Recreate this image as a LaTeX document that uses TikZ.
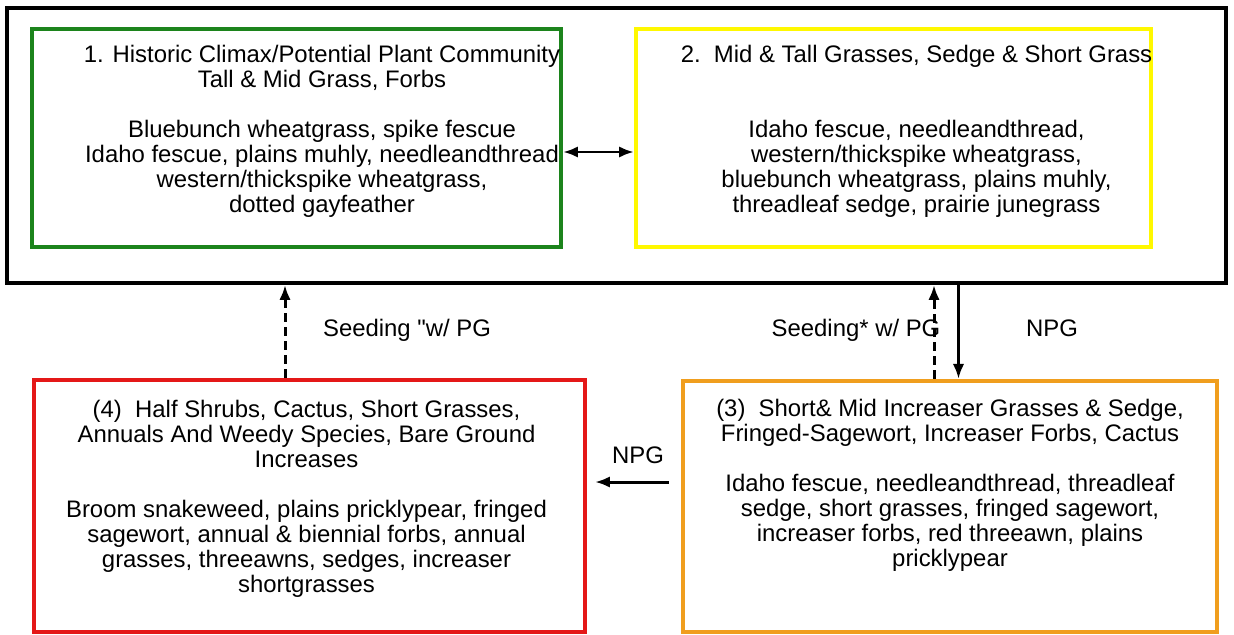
\documentclass[tikz,border=0pt]{standalone}
\usepackage{fontspec}
\setmainfont{Liberation Sans}[Ligatures=TeXOff]
\usepackage{xcolor}
\usetikzlibrary{arrows.meta, positioning}

\definecolor{climaxgreen}{RGB}{28,132,28}
\definecolor{midyellow}{RGB}{255,248,0}
\definecolor{shrubred}{RGB}{228,24,24}
\definecolor{increaserorange}{RGB}{240,158,30}

\begin{document}
\begin{tikzpicture}[
    x=0.02cm, y=-0.02cm,
    box/.style={draw, rectangle, line width=2.4pt, fill=white},
    boxtext/.style={align=center, inner sep=0pt, font=\fontsize{13.6}{14.2}\selectfont},
    lbl/.style={inner sep=1pt, font=\fontsize{13.6}{14.2}\selectfont},
    arrow/.style={->, >={Latex[length=8.5pt, width=6.5pt]}, line width=1.7pt},
    dasharrow/.style={arrow, dash pattern=on 5pt off 3pt}
]
    \useasboundingbox (0,0) rectangle (1234,635);

    \node (group) [box, line width=2.3pt, minimum width=24.38cm, minimum height=5.5cm] at (616.5,145.5) {};
    \node (state1) [box, draw=climaxgreen, minimum width=10.58cm, minimum height=4.36cm] at (296.5,138) {};
    \node (state2) [box, draw=midyellow, minimum width=10.3cm, minimum height=4.36cm] at (893.5,138) {};
    \node (state4) [box, draw=shrubred, minimum width=11.02cm, minimum height=5.04cm] at (309.5,506) {};
    \node (state3) [box, draw=increaserorange, minimum width=10.68cm, minimum height=5.02cm] at (950,506.5) {};

    \node (text1) [boxtext] at ([xshift=0.51cm, yshift=0.14cm]state1.center) {1. Historic Climax/Potential Plant Community\\ Tall \& Mid Grass, Forbs\\[14.2pt] Bluebunch wheatgrass, spike fescue\\ Idaho fescue, plains muhly, needleandthread\\ western/thickspike wheatgrass,\\ dotted gayfeather};
    \node (text2) [boxtext] at ([xshift=0.46cm, yshift=0.14cm]state2.center) {2.\ \ Mid \& Tall Grasses, Sedge \& Short Grass\\[28.4pt] Idaho fescue, needleandthread,\\ western/thickspike wheatgrass,\\ bluebunch wheatgrass, plains muhly,\\ threadleaf sedge, prairie junegrass};
    \node (text4) [boxtext] at ([xshift=-0.06cm, yshift=0.15cm]state4.center) {(4)\ \ Half Shrubs, Cactus, Short Grasses,\\ Annuals And Weedy Species, Bare Ground\\ Increases\\[14.2pt] Broom snakeweed, plains pricklypear, fringed\\ sagewort, annual \& biennial forbs, annual\\ grasses, threeawns, sedges, increaser\\ shortgrasses};
    \node (text3) [boxtext] at ([yshift=0.43cm]state3.center) {(3)\ \ Short\& Mid Increaser Grasses \& Sedge,\\ Fringed-Sagewort, Increaser Forbs, Cactus\\[14.2pt] Idaho fescue, needleandthread, threadleaf\\ sedge, short grasses, fringed sagewort,\\ increaser forbs, red threeawn, plains\\ pricklypear};

    % transitions
    \draw [arrow, <->] ([yshift=-0.28cm]state1.east) -- ([yshift=-0.28cm]state2.west);
    \draw [dasharrow] ([xshift=-0.49cm]state4.north) -- ([xshift=-0.49cm]state4.north |- group.south);
    \draw [dasharrow] ([xshift=-0.32cm]state3.north) -- ([xshift=-0.32cm]state3.north |- group.south);
    \draw [arrow] ([xshift=0.17cm]state3.north |- group.south) -- ([xshift=0.17cm]state3.north);
    \draw [arrow, shorten <=0.24cm, shorten >=0.16cm] ([yshift=0.49cm]state3.west) -- ([yshift=0.49cm]state3.west -| state4.east);

    \node (seed4) [lbl] at (407,330) {Seeding "w/ PG};
    \node (seed3) [lbl] at (856,330) {Seeding* w/ PG};
    \node (npg3) [lbl] at (1052,328) {NPG};
    \node (npg4) [lbl] at (638,455) {NPG};
\end{tikzpicture}
\end{document}
